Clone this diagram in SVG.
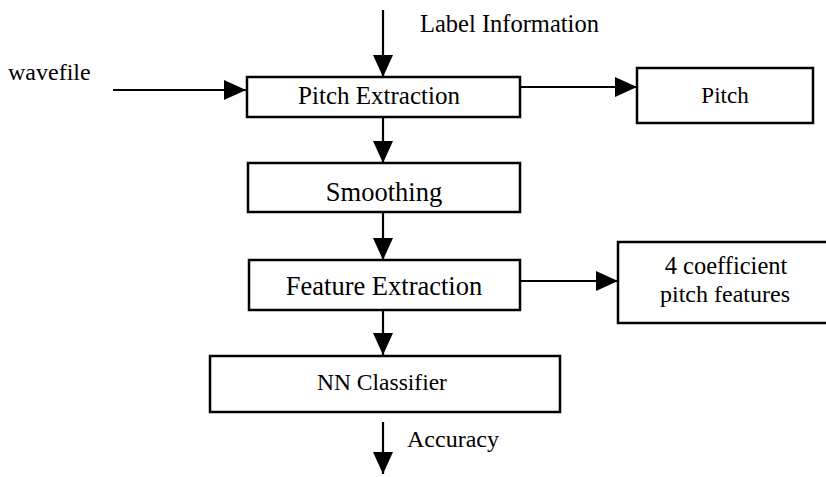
<svg xmlns="http://www.w3.org/2000/svg" width="826" height="477" viewBox="0 0 826 477">
<style>
.box{fill:#fff;stroke:#000;stroke-width:2.5}
.t{font-family:"Liberation Serif","Times New Roman",serif;font-size:24px;fill:#000}
.c{text-anchor:middle}
.big{font-size:26.5px}
.ln{stroke:#000;stroke-width:2.2;fill:none}
</style>
<defs>
<marker id="ah" viewBox="0 0 22 20" refX="22" refY="10" markerWidth="22" markerHeight="20" markerUnits="userSpaceOnUse" orient="auto">
<path d="M0,0 L22,10 L0,20 z" fill="#000"/>
</marker>
</defs>
<rect width="826" height="477" fill="#fff"/>
<g id="connectors">
<line class="ln" x1="383" y1="10" x2="383" y2="77" marker-end="url(#ah)"/>
<line class="ln" x1="113" y1="90" x2="246" y2="90" marker-end="url(#ah)"/>
<line class="ln" x1="520" y1="87" x2="637" y2="87" marker-end="url(#ah)"/>
<line class="ln" x1="383" y1="117" x2="383" y2="163" marker-end="url(#ah)"/>
<line class="ln" x1="383" y1="212" x2="383" y2="260" marker-end="url(#ah)"/>
<line class="ln" x1="520" y1="281" x2="618" y2="281" marker-end="url(#ah)"/>
<line class="ln" x1="383" y1="310" x2="383" y2="355" marker-end="url(#ah)"/>
<line class="ln" x1="383" y1="422" x2="383" y2="474" marker-end="url(#ah)"/>
</g>
<g id="label-information"><text class="t" x="420" y="32" style="font-size:24.5px">Label Information</text></g>
<g id="wavefile"><text class="t" x="8" y="80">wavefile</text></g>
<g id="pitch-extraction">
<rect class="box" x="247" y="77" width="273" height="40"/>
<text class="t c" x="379" y="104" style="font-size:25px">Pitch Extraction</text>
</g>
<g id="pitch">
<rect class="box" x="637" y="68" width="176" height="55"/>
<text class="t c" x="725" y="103" style="font-size:23px">Pitch</text>
</g>
<g id="smoothing">
<rect class="box" x="248" y="163" width="272" height="49"/>
<text class="t c big" x="384" y="201">Smoothing</text>
</g>
<g id="feature-extraction">
<rect class="box" x="249" y="260" width="271" height="50"/>
<text class="t c big" x="384" y="295">Feature Extraction</text>
</g>
<g id="coefficient-features">
<rect class="box" x="618" y="242" width="214" height="81"/>
<text class="t c" x="726" y="274" style="font-size:24.5px">4 coefficient</text>
<text class="t c" x="725" y="302">pitch features</text>
</g>
<g id="nn-classifier">
<rect class="box" x="210" y="356" width="350" height="56"/>
<text class="t c" x="382" y="390" style="font-size:23.5px">NN Classifier</text>
</g>
<g id="accuracy"><text class="t" x="407" y="447">Accuracy</text></g>
</svg>
